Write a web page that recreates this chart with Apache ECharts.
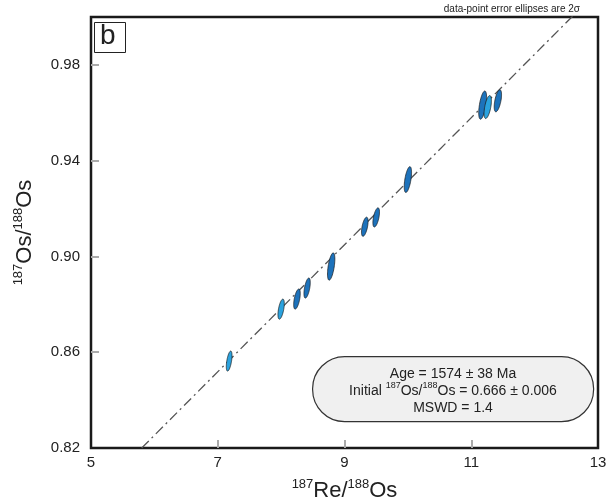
<!DOCTYPE html>
<html>
<head>
<meta charset="utf-8">
<script src="https://cdn.jsdelivr.net/npm/echarts@6/dist/echarts.min.js"></script>
<style>html,body{margin:0;padding:0;background:#fff}#c{width:609px;height:500px}</style>
</head>
<body>
<div id="c"></div>
<script>
// ---- data ----
const reOs = [7.18, 8.00, 8.25, 8.41, 8.79, 9.32, 9.50, 10.00, 11.18, 11.26, 11.42];
const osOs = [0.8563, 0.8780, 0.8822, 0.8868, 0.8958, 0.9124, 0.9163, 0.9321, 0.9632, 0.9624, 0.9650];
const errRe = [0.045, 0.050, 0.052, 0.050, 0.058, 0.052, 0.052, 0.058, 0.062, 0.058, 0.058];
const errOs = [0.0042, 0.0042, 0.0042, 0.0042, 0.0057, 0.0040, 0.0040, 0.0054, 0.0059, 0.0048, 0.0046];
const rho = [0.55, 0.55, 0.55, 0.55, 0.55, 0.55, 0.55, 0.55, 0.55, 0.55, 0.55];
const shade = [1, 1, 0, 0, 0, 0, 0, 0, 0, 1, 0];
const isoX = [5.8, 12.7];
const isoY = [0.820, 1.003];
const xTicks = ['5', '7', '9', '11', '13'];
const yTicks = ['0.82', '0.86', '0.90', '0.94', '0.98'];

const palette = ['#1d72bb', '#2ba2de'];
const FONT = 'Liberation Sans, Arial, sans-serif';

const ellData = reOs.map((x, i) => [x, osOs[i], errRe[i], errOs[i], rho[i], shade[i]]);
const isoData = isoX.map((x, i) => [x, isoY[i]]);
// tick marks only on interior ticks (frame covers the ends)
const xTickMarks = xTicks.slice(1, -1).map(Number);
const yTickMarks = yTicks.slice(1).map(Number);

function renderEllipse(params, api) {
  const cx = api.value(0), cy = api.value(1), sx = api.value(2), sy = api.value(3), r = api.value(4);
  const pts = [];
  const n = 60;
  for (let k = 0; k < n; k++) {
    const t = k / n * 2 * Math.PI;
    pts.push(api.coord([cx + sx * Math.cos(t), cy + sy * (r * Math.cos(t) + Math.sqrt(1 - r * r) * Math.sin(t))]));
  }
  return {
    type: 'polygon',
    shape: { points: pts },
    style: { fill: palette[api.value(5)], stroke: '#1a1a1a', lineWidth: 0.7 }
  };
}

const chart = echarts.init(document.getElementById('c'), null, { renderer: 'canvas' });
chart.setOption({
  animation: false,
  backgroundColor: '#fff',
  grid: { left: 91, right: 11, top: 17, bottom: 52, containLabel: false, outerBoundsMode: 'none',
    show: true, borderColor: '#1a1a1a', borderWidth: 2.5, backgroundColor: 'transparent' },
  xAxis: {
    type: 'value', min: 5, max: 13, interval: 2,
    axisLine: { show: false },
    splitLine: { show: false },
    axisTick: { show: true, inside: true, length: 8, customValues: xTickMarks, lineStyle: { color: '#aaa', width: 2 } },
    axisLabel: { margin: 7, fontSize: 15, color: '#222', fontFamily: FONT, customValues: xTicks.map(Number),
      formatter: v => String(+(+v).toFixed(2)) },
    name: '{sup|187}{big|Re/}{sup|188}{big|Os}',
    nameLocation: 'middle', nameGap: 30,
    nameTextStyle: { rich: {
      big: { fontSize: 22, fontFamily: FONT, color: '#222', verticalAlign: 'bottom', lineHeight: 24 },
      sup: { fontSize: 13, fontFamily: FONT, color: '#222', verticalAlign: 'top', lineHeight: 24 }
    } }
  },
  yAxis: {
    type: 'value', min: 0.82, max: 1.0, interval: 0.04,
    axisLine: { show: false },
    splitLine: { show: false },
    axisTick: { show: true, inside: true, length: 8, customValues: yTickMarks, lineStyle: { color: '#aaa', width: 2 } },
    axisLabel: { margin: 11, fontSize: 15, color: '#222', fontFamily: FONT, customValues: yTicks.map(Number),
      formatter: v => (+v).toFixed(2) },
    name: '{sup|187}{big|Os/}{sup|188}{big|Os}',
    nameLocation: 'middle', nameGap: 55,
    nameTextStyle: { rich: {
      big: { fontSize: 22, fontFamily: FONT, color: '#222', verticalAlign: 'bottom', lineHeight: 24 },
      sup: { fontSize: 13, fontFamily: FONT, color: '#222', verticalAlign: 'top', lineHeight: 24 }
    } }
  },
  series: [
    {
      type: 'line', data: isoData, symbol: 'none', clip: true, z: 1,
      lineStyle: { color: '#555', width: 1.3, type: [10, 4, 2, 4] }
    },
    {
      type: 'custom', data: ellData, renderItem: renderEllipse, clip: true, z: 3,
      encode: { x: 0, y: 1 }
    }
  ],
  graphic: [
    { type: 'text', right: 29, top: 4, style: { text: 'data-point error ellipses are 2σ', fontSize: 10, fontFamily: FONT, fill: '#222' } },
    { type: 'rect', left: 94, top: 22, shape: { width: 31, height: 30 }, style: { fill: '#fff', stroke: '#222', lineWidth: 1 }, z: 10 },
    { type: 'text', left: 100, top: 22, style: { text: 'b', fontSize: 28, fontFamily: FONT, fill: '#222' }, z: 11 },
    { type: 'rect', left: 312, top: 356, shape: { width: 281, height: 65, r: 32 }, style: { fill: '#f0f0f0', stroke: '#333', lineWidth: 1.2 }, z: 10 },
    { type: 'text', x: 453, y: 364, z: 11, style: {
        text: '{t|Age = 1574 ± 38 Ma}\n{t|Initial }{s|187}{t|Os/}{s|188}{t|Os = 0.666 ± 0.006}\n{t|MSWD = 1.4}',
        align: 'center', verticalAlign: 'top', fontFamily: FONT, fill: '#222',
        rich: {
          t: { fontSize: 14, fontFamily: FONT, color: '#222', lineHeight: 17, verticalAlign: 'bottom', align: 'center' },
          s: { fontSize: 9, fontFamily: FONT, color: '#222', lineHeight: 17, verticalAlign: 'top', align: 'center' }
        } } }
  ]
});
</script>
</body>
</html>
